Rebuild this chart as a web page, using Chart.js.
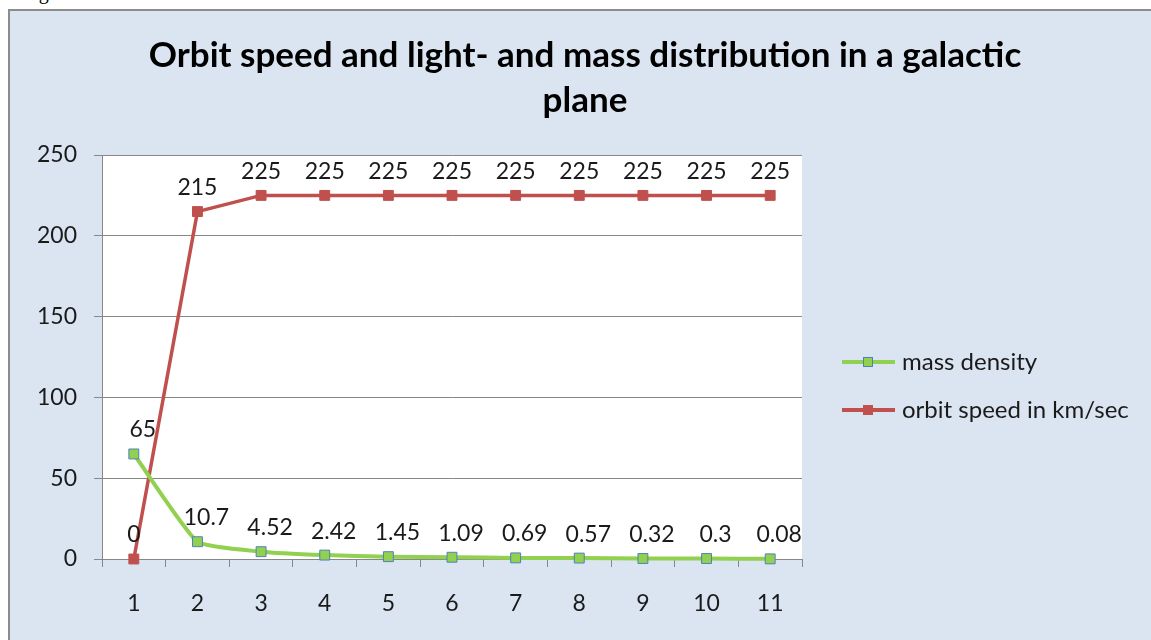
<!DOCTYPE html>
<html>
<head>
<meta charset="utf-8">
<title>Orbit speed and light- and mass distribution in a galactic plane</title>
<script src="https://cdn.jsdelivr.net/npm/chart.js@4.4.0/dist/chart.umd.min.js"></script>
<style>
    html, body { margin: 0; padding: 0; background: #fff; width: 1151px; height: 640px; overflow: hidden; }
    .cut { position: absolute; left: 22px; top: -19px; font: 20px 'Liberation Serif', serif; color: #000; }
    .frame { position: absolute; left: 8px; top: 9px; width: 1150px; height: 750px; border: 2px solid #8c8c8c; background: #dbe5f1; }
    canvas { display: block; }
</style>
</head>
<body>
<div class="cut">Fig</div>
<div class="frame"><canvas id="galaxyChart" width="1150" height="750"></canvas></div>
<script>
// Chart data
const categories = ['1', '2', '3', '4', '5', '6', '7', '8', '9', '10', '11'];
const massDensity = [65, 10.7, 4.52, 2.42, 1.45, 1.09, 0.69, 0.57, 0.32, 0.3, 0.08];
const orbitSpeed = [0, 215, 225, 225, 225, 225, 225, 225, 225, 225, 225];
const yTicks = [0, 50, 100, 150, 200, 250];

const FONT = 'Lato';
const TEXT = '#1a1a1a';
const AXIS = '#878787';
const GREEN = '#92d050';
const GREEN_EDGE = '#4f81bd';
const RED = '#c0504d';

// plot area inside the canvas
const PLOT_LEFT = 92, PLOT_RIGHT = 792, PLOT_BOTTOM = 548;
const CANVAS_W = 1150, CANVAS_H = 750;
const LEGEND_TOP = 351, LEGEND_GAP = 48;

// white plot area
const plotBackground = {
    id: 'plotBackground',
    beforeDraw(chart) {
        const a = chart.chartArea;
        chart.ctx.save();
        chart.ctx.fillStyle = '#ffffff';
        chart.ctx.fillRect(a.left, a.top, a.right - a.left, a.bottom - a.top);
        chart.ctx.restore();
    }
};

// value labels above every point (mass density ones sit a bit to the right)
const valueLabels = {
    id: 'valueLabels',
    afterDatasetsDraw(chart) {
        const ctx = chart.ctx;
        ctx.save();
        ctx.font = '23px ' + FONT;
        ctx.fillStyle = TEXT;
        ctx.textAlign = 'center';
        ctx.textBaseline = 'middle';
        chart.data.datasets.forEach((ds, i) => {
            const dx = i === 0 ? 9 : 0;
            chart.getDatasetMeta(i).data.forEach((pt, j) => {
                ctx.fillText(String(ds.data[j]), pt.x + dx, pt.y - 24);
            });
        });
        ctx.restore();
    }
};

// legend to the right of the plot: line with the marker in the middle
const sideLegend = {
    id: 'sideLegend',
    afterDraw(chart) {
        const ctx = chart.ctx;
        const x0 = chart.chartArea.right;
        ctx.save();
        ctx.font = '24px ' + FONT;
        ctx.textBaseline = 'middle';
        ctx.textAlign = 'left';
        chart.data.datasets.forEach((ds, i) => {
            const y = LEGEND_TOP + i * LEGEND_GAP;
            ctx.strokeStyle = ds.borderColor;
            ctx.lineWidth = 4;
            ctx.beginPath();
            ctx.moveTo(x0 + 40, y);
            ctx.lineTo(x0 + 93, y);
            ctx.stroke();
            ctx.fillStyle = ds.pointBackgroundColor;
            ctx.fillRect(x0 + 61, y - 5, 10, 10);
            ctx.strokeStyle = ds.pointBorderColor;
            ctx.lineWidth = 1;
            ctx.strokeRect(x0 + 61.5, y - 4.5, 9, 9);
            ctx.fillStyle = TEXT;
            ctx.fillText(ds.label, x0 + 100, y);
        });
        ctx.restore();
    }
};

const ctx = document.getElementById('galaxyChart');
new Chart(ctx, {
    type: 'line',
    data: {
        labels: categories,
        datasets: [
            {
                label: 'mass density',
                data: massDensity,
                borderColor: GREEN,
                borderWidth: 4,
                tension: 0.15,
                pointStyle: 'rect',
                pointRadius: 7,
                pointBackgroundColor: GREEN,
                pointBorderColor: GREEN_EDGE,
                pointBorderWidth: 1,
                clip: false
            },
            {
                label: 'orbit speed in km/sec',
                data: orbitSpeed,
                borderColor: RED,
                borderWidth: 3.5,
                tension: 0,
                pointStyle: 'rect',
                pointRadius: 7,
                pointBackgroundColor: RED,
                pointBorderColor: RED,
                pointBorderWidth: 1,
                clip: false
            }
        ]
    },
    options: {
        responsive: false,
        animation: false,
        layout: { padding: 0 },
        plugins: {
            tooltip: { enabled: false },
            legend: { display: false },
            title: {
                display: true,
                text: ['Orbit speed and light- and mass distribution in a galactic', 'plane'],
                color: '#000',
                font: { family: FONT, size: 35, weight: 'bold', lineHeight: '45px' },
                padding: { top: 22, bottom: 32 }
            }
        },
        scales: {
            x: {
                offset: true,
                grid: { offset: true, drawOnChartArea: false, drawTicks: true, tickLength: 8, color: AXIS },
                border: { color: AXIS, width: 1 },
                ticks: { color: TEXT, font: { family: FONT, size: 23 }, padding: 23, maxRotation: 0 },
                afterFit(scale) { scale.height = CANVAS_H - PLOT_BOTTOM; }
            },
            y: {
                min: yTicks[0],
                max: yTicks[yTicks.length - 1],
                grid: { color: AXIS, tickLength: 8 },
                border: { color: AXIS, width: 1 },
                ticks: {
                    stepSize: yTicks[1] - yTicks[0],
                    color: TEXT,
                    font: { family: FONT, size: 23 },
                    padding: 17
                },
                afterFit(scale) { scale.width = PLOT_LEFT; }
            },
            // empty axis that keeps the room for the legend on the right
            legendRoom: {
                position: 'right',
                grid: { display: false },
                border: { display: false },
                ticks: { display: false },
                afterFit(scale) { scale.width = CANVAS_W - PLOT_RIGHT; }
            }
        }
    },
    plugins: [plotBackground, valueLabels, sideLegend]
});
</script>
</body>
</html>
